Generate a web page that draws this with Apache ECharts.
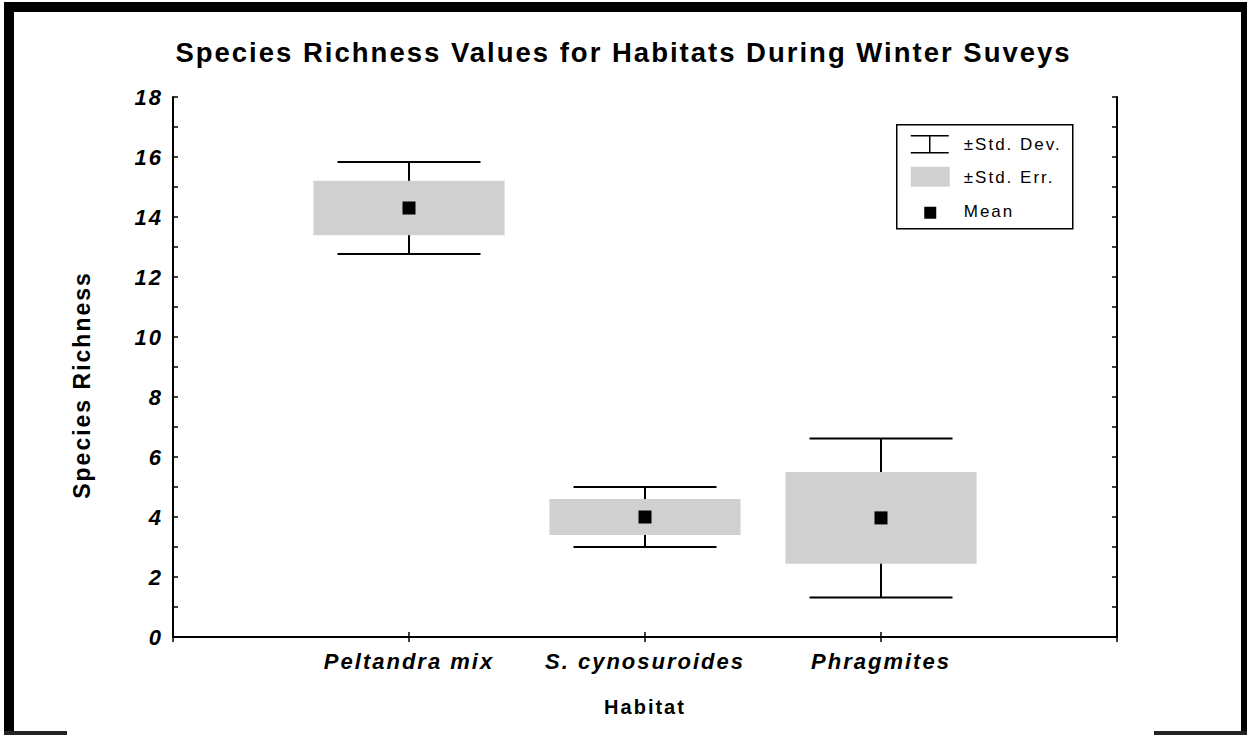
<!DOCTYPE html>
<html>
<head>
<meta charset="utf-8">
<title>Species Richness Values for Habitats During Winter Suveys</title>
<script src="https://cdn.jsdelivr.net/npm/echarts@6/dist/echarts.min.js"></script>
<style>
    html, body { margin: 0; padding: 0; background: #fff; }
    #main { width: 1247px; height: 735px; }
    /* the original graphic uses widely spaced lettering */
    #main text { letter-spacing: 2px; }
</style>
</head>
<body>
<div id="main"></div>
<script>
// 数据
var habitats = ['Peltandra mix', 'S. cynosuroides', 'Phragmites'];
var means = [14.3, 4.0, 3.97];
var stdErr = [0.91, 0.6, 1.53];
var stdDev = [1.53, 1.0, 2.65];
var yTicks = { min: 0, max: 18, interval: 2 };

var fontFamily = "'Liberation Sans', Arial, sans-serif";

// 类目轴两端留空位，使三个栖息地落在 1/4、2/4、3/4 处
var xCategories = [''].concat(habitats, ['']);

function seData () {
    return habitats.map(function (h, i) { return [i + 1, means[i], stdErr[i]]; });
}
function sdData () {
    return habitats.map(function (h, i) { return [i + 1, means[i], stdDev[i]]; });
}
function meanData () {
    return habitats.map(function (h, i) { return [i + 1, means[i]]; });
}

// 标准差须线
function renderSD (params, api) {
    var x = api.value(0), m = api.value(1), d = api.value(2);
    var top = api.coord([x, m + d]);
    var bot = api.coord([x, m - d]);
    var half = api.size([1, 0])[0] * 0.303;
    var style = { stroke: '#000', lineWidth: 2 };
    return {
        type: 'group',
        children: [
            { type: 'line', shape: { x1: top[0], y1: top[1], x2: bot[0], y2: bot[1] }, style: style },
            { type: 'line', shape: { x1: top[0] - half, y1: top[1], x2: top[0] + half, y2: top[1] }, style: style },
            { type: 'line', shape: { x1: bot[0] - half, y1: bot[1], x2: bot[0] + half, y2: bot[1] }, style: style }
        ]
    };
}

// 标准误方框
function renderSE (params, api) {
    var x = api.value(0), m = api.value(1), e = api.value(2);
    var top = api.coord([x, m + e]);
    var bot = api.coord([x, m - e]);
    var w = api.size([1, 0])[0] * 0.81;
    return {
        type: 'rect',
        shape: { x: top[0] - w / 2, y: top[1], width: w, height: bot[1] - top[1] },
        style: { fill: '#d0d0d0' }
    };
}

var axisLine = { show: true, lineStyle: { color: '#000', width: 2 } };
var tick = { show: true, inside: true, length: 5, lineStyle: { color: '#000', width: 1.5 } };
var minorTick = { show: true, splitNumber: 2, length: 5, lineStyle: { color: '#000', width: 1.5 } };

// 图例和外框
var legendX = 896, legendY = 124;
var legendFont = '17px ' + fontFamily;
var frame = [
    { type: 'rect', shape: { x: 4, y: 2, width: 10, height: 732 }, style: { fill: '#000' } },
    { type: 'rect', shape: { x: 4, y: 2, width: 1243, height: 10 }, style: { fill: '#000' } },
    { type: 'rect', shape: { x: 1241, y: 2, width: 6, height: 733 }, style: { fill: '#000' } },
    { type: 'rect', shape: { x: 4, y: 731, width: 63, height: 4 }, style: { fill: '#222' } },
    { type: 'rect', shape: { x: 1154, y: 731, width: 93, height: 4 }, style: { fill: '#222' } },
    {
        type: 'group', left: legendX, top: legendY,
        children: [
            { type: 'rect', shape: { x: 0, y: 0, width: 176, height: 104 }, style: { fill: '#fff', stroke: '#000', lineWidth: 1.5 } },
            { type: 'line', shape: { x1: 14, y1: 11, x2: 52, y2: 11 }, style: { stroke: '#000', lineWidth: 1.5 } },
            { type: 'line', shape: { x1: 14, y1: 28, x2: 52, y2: 28 }, style: { stroke: '#000', lineWidth: 1.5 } },
            { type: 'line', shape: { x1: 33, y1: 11, x2: 33, y2: 28 }, style: { stroke: '#000', lineWidth: 1.5 } },
            { type: 'text', x: 67, y: 20, style: { text: '±Std. Dev.', fill: '#000', font: legendFont, verticalAlign: 'middle' } },
            { type: 'rect', shape: { x: 14, y: 42, width: 39, height: 20 }, style: { fill: '#d0d0d0' } },
            { type: 'text', x: 67, y: 53, style: { text: '±Std. Err.', fill: '#000', font: legendFont, verticalAlign: 'middle' } },
            { type: 'rect', shape: { x: 27.5, y: 82, width: 12, height: 12 }, style: { fill: '#000' } },
            { type: 'text', x: 67, y: 87, style: { text: 'Mean', fill: '#000', font: legendFont, verticalAlign: 'middle' } }
        ]
    }
];

function initChart () {
    var chart = echarts.init(document.getElementById('main'), null, { renderer: 'svg' });
    var option = {
        backgroundColor: '#fff',
        animation: false,
        title: {
            text: 'Species Richness Values for Habitats During Winter Suveys',
            left: 'center',
            top: 33,
            textStyle: { color: '#000', fontSize: 27.5, fontWeight: 'bold', fontFamily: fontFamily }
        },
        grid: { left: 173, right: 130, top: 97, bottom: 98 },
        xAxis: [
            {
                type: 'category',
                data: xCategories,
                boundaryGap: false,
                name: 'Habitat',
                nameLocation: 'middle',
                nameGap: 60,
                nameTextStyle: { color: '#000', fontSize: 20, fontWeight: 'bold', fontFamily: fontFamily },
                axisLine: axisLine,
                axisTick: tick,
                axisLabel: {
                    interval: 0, margin: 13, color: '#000',
                    fontSize: 22, fontWeight: 'bold', fontStyle: 'italic', fontFamily: fontFamily
                },
                splitLine: { show: false }
            },
            {
                type: 'category',
                data: xCategories,
                boundaryGap: false,
                position: 'top',
                axisLine: axisLine,
                axisTick: tick,
                axisLabel: { show: false },
                splitLine: { show: false }
            }
        ],
        yAxis: [
            {
                type: 'value',
                min: yTicks.min, max: yTicks.max, interval: yTicks.interval,
                name: 'Species Richness',
                nameLocation: 'middle',
                nameGap: 80,
                nameTextStyle: {
                    color: '#000', fontSize: 23, fontWeight: 'bold', fontFamily: fontFamily,
                    padding: [0, 36, 0, 0]
                },
                axisLine: axisLine,
                axisTick: tick,
                minorTick: minorTick,
                axisLabel: {
                    margin: 10, color: '#000',
                    fontSize: 22, fontWeight: 'bold', fontStyle: 'italic', fontFamily: fontFamily
                },
                splitLine: { show: false }
            },
            {
                type: 'value',
                min: yTicks.min, max: yTicks.max, interval: yTicks.interval,
                position: 'right',
                axisLine: axisLine,
                axisTick: tick,
                minorTick: minorTick,
                axisLabel: { show: false },
                splitLine: { show: false }
            }
        ],
        series: [
            {
                name: '±Std. Dev.',
                type: 'custom',
                renderItem: renderSD,
                encode: { x: 0, y: [1] },
                data: sdData(),
                z: 2
            },
            {
                name: '±Std. Err.',
                type: 'custom',
                renderItem: renderSE,
                encode: { x: 0, y: [1] },
                data: seData(),
                z: 3
            },
            {
                name: 'Mean',
                type: 'scatter',
                symbol: 'rect',
                symbolSize: 13,
                itemStyle: { color: '#000', opacity: 1 },
                data: meanData(),
                z: 4
            }
        ],
        graphic: frame
    };
    chart.setOption(option);
    return chart;
}

var chart = initChart();
window.onresize = function () {
    chart.resize();
};
</script>
</body>
</html>
